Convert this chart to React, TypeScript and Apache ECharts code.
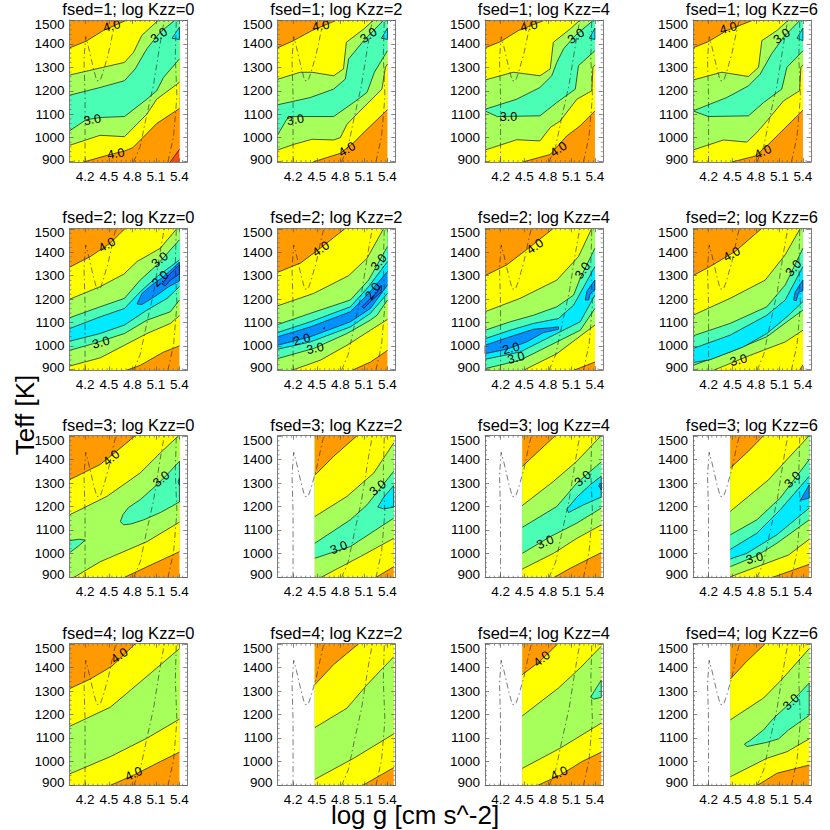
import React, { useEffect, useRef } from "react";
import * as echarts from "echarts";

type Pt = [number, number];
type Contour = [number, Pt[]];
type Tag = [number, number, string, number];

const FONT = "Liberation Sans";
const LEVEL_COLORS = ["#ff4a00", "#ff9b00", "#ffff00", "#a6ff5a", "#4affb5", "#00ebff", "#0090ff", "#1464f0"];
const X_TICKS = [4.2, 4.5, 4.8, 5.1, 5.4];
const Y_TICKS = [900, 1000, 1100, 1200, 1300, 1400, 1500];
const X_MINOR = [4.06, 4.12, 4.18, 4.24, 4.3, 4.36, 4.42, 4.48, 4.54, 4.6, 4.66, 4.72, 4.78, 4.84, 4.9, 4.96, 5.02, 5.08, 5.14, 5.2, 5.26, 5.32, 5.38, 5.44];
const Y_MINOR = [920, 940, 960, 980, 1020, 1040, 1060, 1080, 1120, 1140, 1160, 1180, 1220, 1240, 1260, 1280, 1320, 1340, 1360, 1380, 1420, 1440, 1460, 1480];
const X_MIN = 4.0, X_MAX = 5.5, Y_MIN = 896, Y_MAX = 1502;

const isoA: Pt[] = [[4.198, 896], [4.198, 1176], [4.185, 1332], [4.206, 1431], [4.24, 1389], [4.304, 1296], [4.347, 1243], [4.39, 1243], [4.43, 1282], [4.496, 1360], [4.55, 1445], [4.58, 1488], [4.59, 1502]];
const isoB: Pt[] = [[4.815, 896], [4.9, 963], [4.985, 1098], [5.07, 1225], [5.155, 1403], [5.2, 1488], [5.21, 1502]];
const isoC: Pt[] = [[5.253, 896], [5.325, 1005], [5.368, 1176], [5.347, 1346], [5.36, 1502]];

// fsed = 1
const f1k0Curves: Contour[] = [
  [1, [[5.283, 896], [5.4, 950]]],
  [2, [[4.18, 896], [4.517, 928], [4.7, 943], [4.806, 957], [5.113, 1061], [5.4, 1124]]],
  [3, [[4.0, 967], [4.39, 1010], [4.7, 1004], [4.985, 1100], [5.11, 1164], [5.4, 1236]]],
  [4, [[4.0, 1029], [4.21, 1076], [4.39, 1086], [4.7, 1090], [4.985, 1164], [5.11, 1200], [5.197, 1257], [5.4, 1336]]],
  [3, [[4.0, 1181], [4.39, 1214], [4.7, 1243], [4.836, 1293], [4.985, 1379], [5.155, 1450], [5.347, 1502]]],
  [2, [[4.0, 1267], [4.7, 1321], [4.815, 1364], [4.92, 1436], [5.134, 1502]]],
  [1, [[4.0, 1383], [4.21, 1411], [4.43, 1457], [4.73, 1502]]],
];
const f1k0Blobs: Contour[] = [[5, [[5.305, 1424], [5.4, 1471], [5.4, 1419]]]];
const f1k0Tags: Tag[] = [[4.54, 1476, "4.0", 15], [4.59, 931, "4.0", 10], [5.14, 1436, "3.0", 35], [4.29, 1076, "3.0", 10]];

const f1k2Curves: Contour[] = [
  [2, [[4.45, 896], [4.8, 933], [4.97, 979], [5.12, 1029], [5.4, 1119]]],
  [3, [[4.0, 947], [4.204, 971], [4.44, 993], [4.715, 990], [4.8, 1000], [4.885, 1057], [5.03, 1107], [5.33, 1207], [5.374, 1300], [5.4, 1314]]],
  [4, [[4.0, 1011], [4.12, 1079], [4.2, 1090], [4.715, 1090], [4.97, 1150], [5.14, 1193], [5.234, 1279], [5.4, 1371]]],
  [3, [[4.0, 1140], [4.417, 1171], [4.715, 1207], [4.864, 1250], [4.906, 1336], [5.098, 1414], [5.353, 1502]]],
  [2, [[4.0, 1249], [4.29, 1279], [4.44, 1279], [4.715, 1264], [4.84, 1293], [4.877, 1407], [5.1, 1464], [5.225, 1502]]],
  [1, [[4.0, 1383], [4.204, 1414], [4.44, 1457], [4.757, 1502]]],
];
const f1k2Blobs: Contour[] = [[5, [[5.323, 1424], [5.4, 1467], [5.4, 1419]]]];
const f1k2Tags: Tag[] = [[4.553, 1476, "4.0", 10], [5.16, 1436, "3.0", 35], [4.226, 1076, "3.0", 10], [4.885, 950, "4.0", 30]];

const f1k4Curves: Contour[] = [
  [2, [[4.48, 896], [4.83, 928], [5.04, 1007], [5.21, 1050], [5.4, 1114]]],
  [3, [[4.0, 947], [4.404, 991], [4.7, 986], [4.83, 1043], [4.957, 1071], [5.17, 1164], [5.36, 1200], [5.374, 1300], [5.4, 1311]]],
  [4, [[4.0, 1114], [4.157, 1090], [4.7, 1093], [4.915, 1150], [5.15, 1207], [5.19, 1307], [5.4, 1371]]],
  [3, [[4.0, 1121], [4.404, 1164], [4.7, 1214], [4.85, 1264], [4.915, 1321], [5.0, 1379], [5.15, 1436], [5.383, 1502]]],
  [2, [[4.0, 1246], [4.36, 1279], [4.7, 1264], [4.83, 1293], [4.87, 1407], [5.085, 1464], [5.21, 1502]]],
  [1, [[4.0, 1383], [4.2, 1410], [4.425, 1457], [4.766, 1502]]],
];
const f1k4Blobs: Contour[] = [[5, [[5.328, 1424], [5.4, 1467], [5.4, 1419]]]];
const f1k4Tags: Tag[] = [[4.56, 1476, "4.0", 12], [5.16, 1433, "3.0", 35], [4.3, 1090, "3.0", 0], [4.936, 950, "4.0", 35]];

const f1k6Curves: Contour[] = [
  [2, [[4.494, 896], [4.79, 921], [4.96, 971], [5.09, 1014], [5.4, 1117]]],
  [3, [[4.0, 947], [4.387, 990], [4.685, 981], [4.81, 1021], [4.96, 1079], [5.153, 1157], [5.357, 1200], [5.374, 1300], [5.4, 1311]]],
  [4, [[4.0, 1114], [4.196, 1090], [4.706, 1093], [4.9, 1150], [5.13, 1207], [5.196, 1300], [5.4, 1371]]],
  [3, [[4.0, 1114], [4.43, 1171], [4.706, 1221], [4.855, 1271], [5.0, 1357], [5.153, 1429], [5.366, 1502]]],
  [2, [[4.0, 1246], [4.366, 1279], [4.706, 1261], [4.834, 1300], [4.877, 1414], [5.068, 1457], [5.217, 1502]]],
  [1, [[4.0, 1383], [4.196, 1410], [4.43, 1457], [4.77, 1502]]],
];
const f1k6Blobs: Contour[] = [[5, [[5.323, 1424], [5.4, 1467], [5.4, 1414]]]];
const f1k6Tags: Tag[] = [[4.45, 1467, "4.0", 15], [5.13, 1433, "3.0", 35], [4.89, 939, "4.0", 25]];

// fsed = 2
const f2k0Curves: Contour[] = [
  [2, [[4.723, 896], [4.9, 917], [5.2, 974], [5.4, 1000]]],
  [3, [[4.0, 914], [4.39, 949], [4.7, 1003], [4.987, 1053], [5.285, 1096], [5.4, 1129]]],
  [4, [[4.0, 981], [4.306, 1010], [4.7, 1053], [4.987, 1110], [5.285, 1146], [5.4, 1196]]],
  [5, [[4.0, 1020], [4.39, 1053], [4.7, 1089], [4.987, 1153], [5.243, 1203], [5.4, 1253]]],
  [4, [[4.0, 1074], [4.39, 1124], [4.7, 1160], [4.9, 1231], [5.115, 1296], [5.4, 1367]]],
  [3, [[4.0, 1120], [4.39, 1167], [4.7, 1203], [4.9, 1281], [5.115, 1346], [5.4, 1453]]],
  [2, [[4.0, 1199], [4.39, 1253], [4.69, 1306], [4.86, 1360], [5.157, 1417], [5.37, 1502]]],
  [1, [[4.0, 1336], [4.264, 1381], [4.52, 1439], [4.71, 1502]]],
];
const f2k0Blobs: Contour[] = [
  [6, [[4.86, 1179], [4.923, 1224], [5.05, 1260], [5.2, 1296], [5.4, 1357], [5.4, 1277], [5.264, 1253], [5.115, 1217], [4.923, 1177]]],
  [7, [[5.18, 1264], [5.264, 1303], [5.4, 1346], [5.4, 1307], [5.285, 1281], [5.22, 1256]]],
];
const f2k0Tags: Tag[] = [[4.477, 1431, "4.0", 30], [5.15, 1367, "3.0", 40], [5.157, 1286, "2.0", 45], [4.4, 1014, "3.0", 15]];

const f2k2Curves: Contour[] = [
  [2, [[4.95, 896], [5.183, 931], [5.4, 981]]],
  [3, [[4.183, 896], [4.545, 939], [4.885, 1003], [5.183, 1067], [5.4, 1113]]],
  [4, [[4.0, 946], [4.46, 989], [4.885, 1053], [5.183, 1110], [5.268, 1131], [5.4, 1196]]],
  [5, [[4.0, 986], [4.417, 1017], [4.928, 1081], [5.183, 1139], [5.4, 1224]]],
  [6, [[4.0, 1003], [4.417, 1039], [4.928, 1103], [5.183, 1160], [5.4, 1260]]],
  [5, [[4.0, 1039], [4.417, 1081], [4.928, 1146], [5.16, 1224], [5.4, 1317]]],
  [4, [[4.0, 1057], [4.417, 1103], [4.928, 1167], [5.16, 1253], [5.4, 1360]]],
  [3, [[4.0, 1091], [4.417, 1139], [4.928, 1196], [5.16, 1281], [5.4, 1424]]],
  [2, [[4.0, 1171], [4.46, 1224], [4.906, 1300], [5.14, 1374], [5.353, 1502]]],
  [1, [[4.0, 1314], [4.29, 1353], [4.545, 1417], [4.864, 1502]]],
];
const f2k2Blobs: Contour[] = [
  [7, [[5.077, 1167], [5.14, 1189], [5.268, 1229], [5.323, 1260], [5.323, 1231], [5.183, 1189], [5.098, 1160]]],
  [7, [[4.58, 1074], [4.6, 1079], [4.6, 1074]]],
];
const f2k2Tags: Tag[] = [[4.553, 1414, "4.0", 35], [5.29, 1357, "3.0", 50], [5.217, 1234, "2.0", 55], [4.31, 1027, "2.0", 15], [4.48, 989, "3.0", 12]];

const f2k4Curves: Contour[] = [
  [2, [[5.128, 896], [5.4, 931]]],
  [3, [[4.49, 896], [4.915, 967], [5.4, 1089]]],
  [4, [[4.0, 903], [4.447, 939], [4.915, 1017], [5.213, 1067], [5.4, 1160]]],
  [5, [[4.0, 943], [4.447, 974], [4.915, 1053], [5.213, 1103], [5.4, 1217]]],
  [4, [[4.0, 1031], [4.32, 1067], [4.617, 1096], [4.936, 1117], [5.128, 1174], [5.4, 1339]]],
  [3, [[4.0, 1067], [4.32, 1103], [4.617, 1131], [4.915, 1167], [5.128, 1217], [5.213, 1289], [5.4, 1417]]],
  [2, [[4.0, 1146], [4.447, 1203], [4.915, 1281], [5.19, 1381], [5.36, 1502]]],
  [1, [[4.0, 1300], [4.277, 1346], [4.553, 1417], [4.872, 1502]]],
];
const f2k4Blobs: Contour[] = [
  [6, [[4.0, 1003], [4.32, 1039], [4.617, 1071], [4.936, 1081], [4.936, 1071], [4.745, 1057], [4.53, 1017], [4.277, 986], [4.0, 967]]],
  [6, [[5.277, 1196], [5.298, 1234], [5.4, 1281], [5.4, 1239], [5.34, 1224], [5.32, 1196]]],
];
const f2k4Tags: Tag[] = [[4.638, 1424, "4.0", 35], [5.243, 1321, "3.0", 55], [4.332, 989, "2.0", 15], [4.396, 949, "3.0", 15]];

const f2k6Curves: Contour[] = [
  [2, [[5.357, 896], [5.4, 920]]],
  [3, [[4.26, 896], [4.728, 960], [5.174, 1017], [5.4, 1067]]],
  [4, [[4.0, 917], [4.47, 974], [4.94, 1039], [5.196, 1103], [5.4, 1153]]],
  [5, [[4.0, 929], [4.217, 941], [4.643, 996], [4.94, 1053], [5.196, 1124], [5.4, 1189]]],
  [4, [[4.0, 989], [4.472, 1046], [4.94, 1131], [5.174, 1196], [5.4, 1339]]],
  [3, [[4.0, 1043], [4.472, 1096], [4.94, 1167], [5.174, 1260], [5.4, 1417]]],
  [2, [[4.0, 1131], [4.472, 1203], [4.92, 1281], [5.174, 1389], [5.366, 1502]]],
  [1, [[4.0, 1300], [4.217, 1339], [4.536, 1403], [4.877, 1502]]],
];
const f2k6Blobs: Contour[] = [[6, [[5.28, 1196], [5.302, 1231], [5.4, 1281], [5.4, 1236], [5.345, 1229], [5.315, 1193]]]];
const f2k6Tags: Tag[] = [[4.494, 1391, "4.0", 30], [5.28, 1331, "3.0", 50], [4.58, 939, "3.0", 15]];

// fsed = 3
const f3k0Curves: Contour[] = [
  [2, [[4.69, 896], [4.9, 929], [5.4, 1007]]],
  [3, [[4.05, 896], [4.39, 964], [4.987, 1050], [5.4, 1133]]],
  [2, [[4.0, 1164], [4.477, 1243], [4.9, 1343], [5.157, 1429], [5.39, 1502]]],
  [1, [[4.0, 1314], [4.39, 1379], [4.6, 1436], [4.838, 1502]]],
];
const f3k0Blobs: Contour[] = [
  [4, [[4.0, 1054], [4.115, 1060], [4.2, 1057], [4.115, 1031], [4.0, 1003]]],
  [4, [[4.647, 1135], [4.68, 1165], [4.75, 1195], [4.9, 1229], [5.115, 1293], [5.243, 1336], [5.4, 1393], [5.4, 1219], [5.157, 1174], [4.945, 1143], [4.78, 1125], [4.69, 1122]]],
  [5, [[5.383, 1307], [5.4, 1321], [5.4, 1290]]],
];
const f3k0Tags: Tag[] = [[4.532, 1407, "4.0", 40], [5.17, 1317, "3.0", 40]];

const f3k2Curves: Contour[] = [
  [2, [[5.247, 896], [5.48, 943]]],
  [3, [[4.545, 896], [5.055, 986], [5.48, 1064]]],
  [4, [[4.475, 979], [4.928, 1029], [5.48, 1150]]],
  [3, [[4.475, 1043], [4.928, 1143], [5.14, 1207], [5.48, 1350]]],
  [2, [[4.475, 1157], [4.885, 1243], [5.226, 1343], [5.48, 1471]]],
  [1, [[4.475, 1333], [4.715, 1414], [5.013, 1502]]],
];
const f3k2Blobs: Contour[] = [[5, [[5.277, 1197], [5.353, 1240], [5.48, 1289], [5.48, 1197], [5.353, 1190]]]];
const f3k2Tags: Tag[] = [[5.277, 1279, "3.0", 40], [4.78, 1024, "3.0", 20]];

const f3k4Curves: Contour[] = [
  [2, [[4.872, 896], [5.085, 936], [5.48, 1003]]],
  [3, [[4.475, 933], [4.872, 1000], [5.17, 1064], [5.48, 1121]]],
  [4, [[4.475, 1000], [4.83, 1071], [5.17, 1129], [5.48, 1193]]],
  [3, [[4.475, 1111], [4.915, 1200], [5.17, 1300], [5.48, 1390]]],
  [2, [[4.475, 1204], [4.872, 1307], [5.17, 1393], [5.477, 1502]]],
  [1, [[4.475, 1371], [4.66, 1429], [4.894, 1502]]],
];
const f3k4Blobs: Contour[] = [
  [5, [[5.043, 1189], [5.17, 1240], [5.34, 1293], [5.48, 1329], [5.48, 1240], [5.255, 1207], [5.064, 1174]]],
  [6, [[5.447, 1289], [5.48, 1300], [5.48, 1271]]],
];
const f3k4Tags: Tag[] = [[5.247, 1319, "3.0", 40], [4.766, 1047, "3.0", 25]];

const f3k6Curves: Contour[] = [
  [2, [[5.0, 896], [5.48, 953]]],
  [3, [[4.475, 900], [5.217, 993], [5.48, 1060]]],
  [4, [[4.475, 943], [4.813, 990], [5.068, 1043], [5.48, 1143]]],
  [5, [[4.475, 976], [4.685, 1000], [5.068, 1079], [5.48, 1193]]],
  [4, [[4.475, 1017], [4.813, 1086], [5.11, 1186], [5.48, 1329]]],
  [3, [[4.475, 1079], [4.813, 1143], [5.11, 1236], [5.48, 1400]]],
  [2, [[4.475, 1179], [4.962, 1314], [5.196, 1400], [5.48, 1502]]],
  [1, [[4.475, 1364], [4.706, 1436], [4.898, 1502]]],
];
const f3k6Blobs: Contour[] = [[6, [[5.366, 1226], [5.48, 1293], [5.48, 1236]]]];
const f3k6Tags: Tag[] = [[5.268, 1314, "3.0", 45], [4.783, 979, "3.0", 15]];

// fsed = 4
const f4k0Curves: Contour[] = [
  [2, [[4.51, 896], [4.817, 941], [5.157, 999], [5.4, 1039]]],
  [3, [[4.0, 946], [4.52, 1020], [4.987, 1099], [5.4, 1180]]],
  [2, [[4.0, 1149], [4.52, 1231], [4.987, 1363], [5.4, 1481]]],
  [1, [[4.0, 1310], [4.264, 1351], [4.54, 1406], [4.838, 1502]]],
];
const f4k0Blobs: Contour[] = [];
const f4k0Tags: Tag[] = [[4.638, 1451, "4.0", 35], [4.817, 946, "4.0", 25]];

const f4k2Curves: Contour[] = [
  [2, [[5.077, 896], [5.48, 973]]],
  [3, [[4.475, 923], [4.97, 1013], [5.48, 1117]]],
  [2, [[4.475, 1144], [4.885, 1227], [5.14, 1327], [5.48, 1446]]],
  [1, [[4.475, 1327], [4.715, 1413], [5.034, 1502]]],
];
const f4k2Blobs: Contour[] = [];
const f4k2Tags: Tag[] = [];

const f4k4Curves: Contour[] = [
  [2, [[4.66, 896], [4.957, 941], [5.234, 999], [5.48, 1039]]],
  [3, [[4.475, 970], [4.957, 1056], [5.48, 1163]]],
  [2, [[4.475, 1194], [4.936, 1313], [5.213, 1399], [5.48, 1491]]],
  [1, [[4.475, 1370], [4.7, 1427], [4.928, 1502]]],
];
const f4k4Blobs: Contour[] = [[4, [[5.345, 1274], [5.48, 1346], [5.48, 1273], [5.383, 1266]]]];
const f4k4Tags: Tag[] = [[4.723, 1437, "4.0", 40], [4.945, 949, "4.0", 25]];

const f4k6Curves: Contour[] = [
  [2, [[4.813, 896], [5.068, 949], [5.48, 984]]],
  [3, [[4.475, 934], [4.94, 1013], [5.196, 1041], [5.48, 1096]]],
  [2, [[4.475, 1177], [4.898, 1270], [5.13, 1349], [5.48, 1481]]],
  [1, [[4.475, 1351], [4.685, 1427], [4.92, 1502]]],
];
const f4k6Blobs: Contour[] = [[4, [[4.655, 1074], [4.728, 1089], [4.898, 1134], [5.026, 1184], [5.238, 1249], [5.48, 1334], [5.48, 1196], [5.217, 1134], [5.09, 1096], [4.94, 1081], [4.685, 1063]]]];
const f4k6Tags: Tag[] = [[5.25, 1253, "3.0", 45]];

const FSEDS = [1, 2, 3, 4];
const KZZS = [0, 2, 4, 6];
const BASE_LEVELS = [
  [0, 1, 1, 1],
  [1, 1, 1, 1],
  [1, 1, 1, 1],
  [1, 1, 1, 1],
];
const FILL_LO = [
  [4.0, 4.0, 4.0, 4.0],
  [4.0, 4.0, 4.0, 4.0],
  [4.0, 4.475, 4.475, 4.475],
  [4.0, 4.475, 4.475, 4.475],
];
const FILL_HI = [
  [5.4, 5.4, 5.4, 5.4],
  [5.4, 5.4, 5.4, 5.4],
  [5.4, 5.48, 5.48, 5.48],
  [5.4, 5.48, 5.48, 5.48],
];
const CURVES = [
  [f1k0Curves, f1k2Curves, f1k4Curves, f1k6Curves],
  [f2k0Curves, f2k2Curves, f2k4Curves, f2k6Curves],
  [f3k0Curves, f3k2Curves, f3k4Curves, f3k6Curves],
  [f4k0Curves, f4k2Curves, f4k4Curves, f4k6Curves],
];
const BLOBS = [
  [f1k0Blobs, f1k2Blobs, f1k4Blobs, f1k6Blobs],
  [f2k0Blobs, f2k2Blobs, f2k4Blobs, f2k6Blobs],
  [f3k0Blobs, f3k2Blobs, f3k4Blobs, f3k6Blobs],
  [f4k0Blobs, f4k2Blobs, f4k4Blobs, f4k6Blobs],
];
const TAGS = [
  [f1k0Tags, f1k2Tags, f1k4Tags, f1k6Tags],
  [f2k0Tags, f2k2Tags, f2k4Tags, f2k6Tags],
  [f3k0Tags, f3k2Tags, f3k4Tags, f3k6Tags],
  [f4k0Tags, f4k2Tags, f4k4Tags, f4k6Tags],
];

const GRID_LEFT = [69.5, 277.5, 485, 693];
const GRID_TOP = [20, 228.3, 435.7, 643.7];
const GRID_W = 117.8;
const GRID_H = 142;

type Item = { level: number; poly: Pt[]; line: Pt[] | null; closed: boolean };

function buildItems(r: number, c: number): Item[] {
  const lo = FILL_LO[r][c], hi = FILL_HI[r][c];
  const items: Item[] = [{
    level: BASE_LEVELS[r][c],
    poly: [[lo, Y_MIN], [hi, Y_MIN], [hi, Y_MAX], [lo, Y_MAX]],
    line: null,
    closed: false,
  }];
  for (const [level, pts] of CURVES[r][c]) {
    const clean: Pt[] = pts.map(([x, y]) => [Math.min(hi, Math.max(lo, x)), Math.min(Y_MAX, Math.max(Y_MIN, y))]);
    const first = clean[0], last = clean[clean.length - 1];
    const poly: Pt[] = clean.slice();
    if (last[0] >= hi - 0.001) poly.push([hi, Y_MAX]);
    poly.push([lo, Y_MAX]);
    if (first[0] > lo + 0.001) poly.push([lo, Y_MIN]);
    items.push({ level, poly, line: clean, closed: false });
  }
  for (const [level, pts] of BLOBS[r][c]) {
    const clean: Pt[] = pts.map(([x, y]) => [Math.min(hi, Math.max(lo, x)), y]);
    items.push({ level, poly: clean, line: clean, closed: true });
  }
  return items;
}

function buildOption() {
  const grid: any[] = [], xAxis: any[] = [], yAxis: any[] = [], series: any[] = [], title: any[] = [];
  const line = { show: true, lineStyle: { color: "#808080", width: 1 } };
  const tick = { show: true, inside: true, length: 4, lineStyle: { color: "#555", width: 0.7 } };
  const labelFont = { color: "#000", fontFamily: FONT, fontSize: 13.5 };
  FSEDS.forEach((fsed, r) => {
    KZZS.forEach((kzz, c) => {
      const g = grid.length;
      grid.push({ left: GRID_LEFT[c], top: GRID_TOP[r], width: GRID_W, height: GRID_H, containLabel: false });
      title.push({
        text: `fsed=${fsed}; log Kzz=${kzz}`,
        left: GRID_LEFT[c] + GRID_W / 2,
        top: GRID_TOP[r] - 19.5,
        textAlign: "center",
        padding: 0,
        textStyle: { fontFamily: FONT, fontSize: 16.5, fontWeight: "normal", color: "#000" },
      });
      const xi = xAxis.length, yi = yAxis.length;
      const xBase = { type: "value", min: X_MIN, max: X_MAX, gridIndex: g, splitLine: { show: false }, z: 5, axisLine: line };
      const yBase = { type: "value", min: Y_MIN, max: Y_MAX, gridIndex: g, splitLine: { show: false }, z: 5, axisLine: line };
      xAxis.push({
        ...xBase, position: "bottom",
        axisTick: { ...tick, customValues: X_TICKS },
        axisLabel: { customValues: X_TICKS, margin: 7, ...labelFont, formatter: (v: number) => v.toFixed(1) },
      });
      xAxis.push({
        ...xBase, position: "top",
        axisTick: { ...tick, customValues: X_TICKS },
        axisLabel: { show: false },
      });
      yAxis.push({
        ...yBase, position: "left",
        axisTick: { ...tick, customValues: Y_TICKS },
        axisLabel: {
          customValues: Y_TICKS, margin: 5, ...labelFont,
          formatter: (v: number) => (v === 900 ? `{lo|${v}}` : v === 1500 ? `{hi|${v}}` : `${v}`),
          rich: {
            lo: { padding: [0, 0, 4, 0], ...labelFont },
            hi: { padding: [8, 0, 0, 0], ...labelFont },
          },
        },
      });
      yAxis.push({
        ...yBase, position: "right",
        axisTick: { ...tick, customValues: Y_TICKS },
        axisLabel: { show: false },
      });

      const items = buildItems(r, c);
      series.push({
        type: "custom", coordinateSystem: "cartesian2d", xAxisIndex: xi, yAxisIndex: yi, z: 2, silent: true,
        data: items.map((it, i) => [it.poly[0][0], it.poly[0][1], i]),
        renderItem: (params: any, api: any) => {
          const it = items[params.dataIndex];
          const toPx = (p: Pt) => api.coord(p);
          const children: any[] = [{
            type: "polygon",
            shape: { points: it.poly.map(toPx) },
            style: { fill: LEVEL_COLORS[it.level], stroke: it.closed ? "#111" : null, lineWidth: it.closed ? 0.7 : 0 },
          }];
          if (it.line && !it.closed) {
            children.push({
              type: "polyline",
              shape: { points: it.line.map(toPx) },
              style: { fill: null, stroke: "#111", lineWidth: 0.7 },
            });
          }
          return { type: "group", children };
        },
      });

      [isoA, isoB, isoC].forEach((iso) => {
        series.push({
          type: "line", xAxisIndex: xi, yAxisIndex: yi, z: 3, silent: true,
          data: iso, showSymbol: false, smooth: false,
          lineStyle: { color: "#222", width: 0.6, type: [6, 3, 1.5, 3] },
        });
      });

      const tags = TAGS[r][c];
      series.push({
        type: "custom", coordinateSystem: "cartesian2d", xAxisIndex: xi, yAxisIndex: yi, z: 4, silent: true,
        data: tags.map((t) => [t[0], t[1]]),
        renderItem: (params: any, api: any) => {
          const t = tags[params.dataIndex];
          const [px, py] = api.coord([t[0], t[1]]);
          return {
            type: "text", x: px, y: py, rotation: (t[3] * Math.PI) / 180,
            style: { text: t[2], fill: "#000", fontFamily: FONT, fontSize: 12.5, align: "center", verticalAlign: "middle", textAlign: "center", textVerticalAlign: "middle" },
          };
        },
      });

      // minor tick marks on all four sides of the frame
      series.push({
        type: "custom", coordinateSystem: "cartesian2d", xAxisIndex: xi, yAxisIndex: yi, z: 6, silent: true,
        data: [[X_MIN, Y_MIN]],
        renderItem: (_p: any, api: any) => {
          const children: any[] = [];
          const s = { stroke: "#666", lineWidth: 0.7 };
          X_MINOR.forEach((x) => {
            const [px, pb] = api.coord([x, Y_MIN]);
            const [, pt] = api.coord([x, Y_MAX]);
            children.push({ type: "line", shape: { x1: px, y1: pb, x2: px, y2: pb - 2 }, style: s });
            children.push({ type: "line", shape: { x1: px, y1: pt, x2: px, y2: pt + 2 }, style: s });
          });
          Y_MINOR.forEach((y) => {
            const [pl, py] = api.coord([X_MIN, y]);
            const [pr] = api.coord([X_MAX, y]);
            children.push({ type: "line", shape: { x1: pl, y1: py, x2: pl + 2, y2: py }, style: s });
            children.push({ type: "line", shape: { x1: pr, y1: py, x2: pr - 2, y2: py }, style: s });
          });
          return { type: "group", children };
        },
      });
    });
  });

  return {
    animation: false,
    backgroundColor: "#fff",
    title,
    grid,
    xAxis,
    yAxis,
    series,
    graphic: [
      { type: "text", x: 25, y: 415, rotation: Math.PI / 2, style: { text: "Teff [K]", fill: "#000", fontFamily: FONT, fontSize: 26, align: "center", verticalAlign: "middle", textAlign: "center", textVerticalAlign: "middle" } },
      { type: "text", x: 415, y: 815, style: { text: "log g [cm s^-2]", fill: "#000", fontFamily: FONT, fontSize: 26, align: "center", verticalAlign: "middle", textAlign: "center", textVerticalAlign: "middle" } },
    ],
  };
}

export default function App() {
  const ref = useRef<HTMLDivElement>(null);
  useEffect(() => {
    document.body.style.margin = "0";
    const chart = echarts.init(ref.current!, undefined, { renderer: "svg" });
    chart.setOption(buildOption() as any);
    return () => chart.dispose();
  }, []);
  return <div ref={ref} style={{ position: "absolute", left: 0, top: 0, width: 830, height: 830 }} />;
}
